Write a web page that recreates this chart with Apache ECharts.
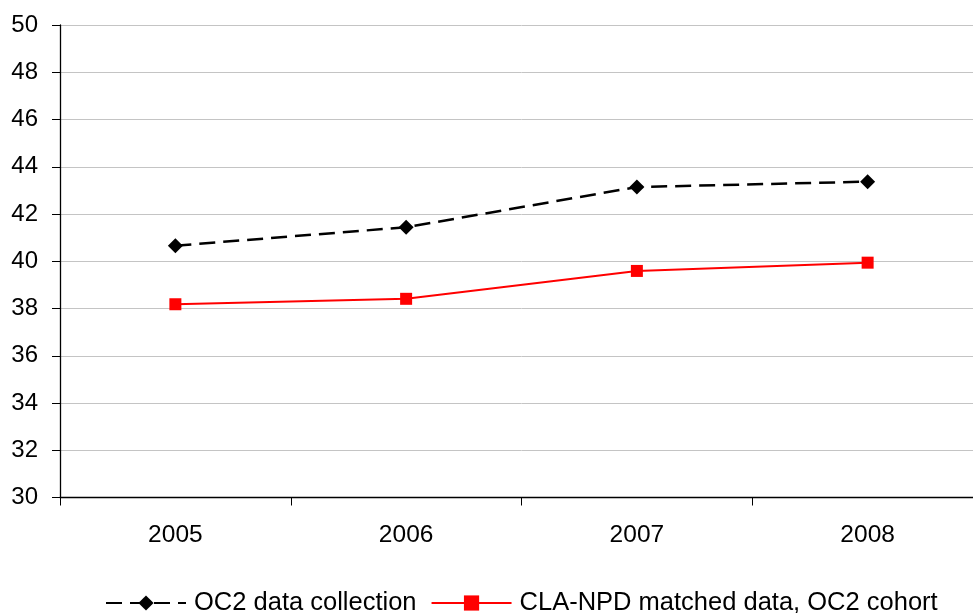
<!DOCTYPE html>
<html><head><meta charset="utf-8">
<script src="https://cdn.jsdelivr.net/npm/echarts@6/dist/echarts.min.js"></script>
<style>html,body{margin:0;padding:0;background:#fff;overflow:hidden}#c{width:986px;height:613px}</style>
</head><body><div id="c"></div>
<script>
const categories = ['2005', '2006', '2007', '2008'];
const oc2Collection = [40.66, 41.44, 43.14, 43.37];
const claNpdMatched = [38.18, 38.41, 39.59, 39.94];
const seriesNames = ['OC2 data collection', 'CLA-NPD matched data, OC2 cohort'];

const chart = echarts.init(document.getElementById('c'));
const font = 'Liberation Sans, Arial, sans-serif';
chart.setOption({
  animation: false,
  grid: { left: 60, right: 3, top: 25, height: 472.5 },
  xAxis: {
    type: 'category', data: categories, boundaryGap: true,
    axisLine: { lineStyle: { color: '#000', width: 1.3 } },
    axisTick: { show: true, length: 8, lineStyle: { color: '#000' } },
    axisLabel: { color: '#000', fontSize: 24.5, fontFamily: font, margin: 25 },
    splitLine: { show: false }
  },
  yAxis: {
    type: 'value', min: 30, max: 50, interval: 2,
    axisLine: { show: true, lineStyle: { color: '#000', width: 1.3 } },
    axisTick: { show: true, length: 8, lineStyle: { color: '#000' } },
    axisLabel: { color: '#000', fontSize: 24, fontFamily: font, margin: 22 },
    splitLine: { lineStyle: { color: '#c4c4c4', width: 1 } }
  },
  legend: {
    top: 585, left: 100, itemWidth: 80, itemHeight: 19, itemGap: 14,
    textStyle: { color: '#000', fontSize: 25.5, fontFamily: font, padding: [0, 0, 0, 3] },
    data: seriesNames
  },
  series: [
    {
      name: seriesNames[0], type: 'line', data: oc2Collection,
      symbol: 'diamond', symbolSize: 15,
      itemStyle: { color: '#000' },
      lineStyle: { color: '#000', width: 2.5, type: [16, 8] }
    },
    {
      name: seriesNames[1], type: 'line', data: claNpdMatched,
      symbol: 'rect', symbolSize: 12,
      itemStyle: { color: '#ff0000' },
      lineStyle: { color: '#ff0000', width: 2 }
    }
  ]
});
</script></body></html>
